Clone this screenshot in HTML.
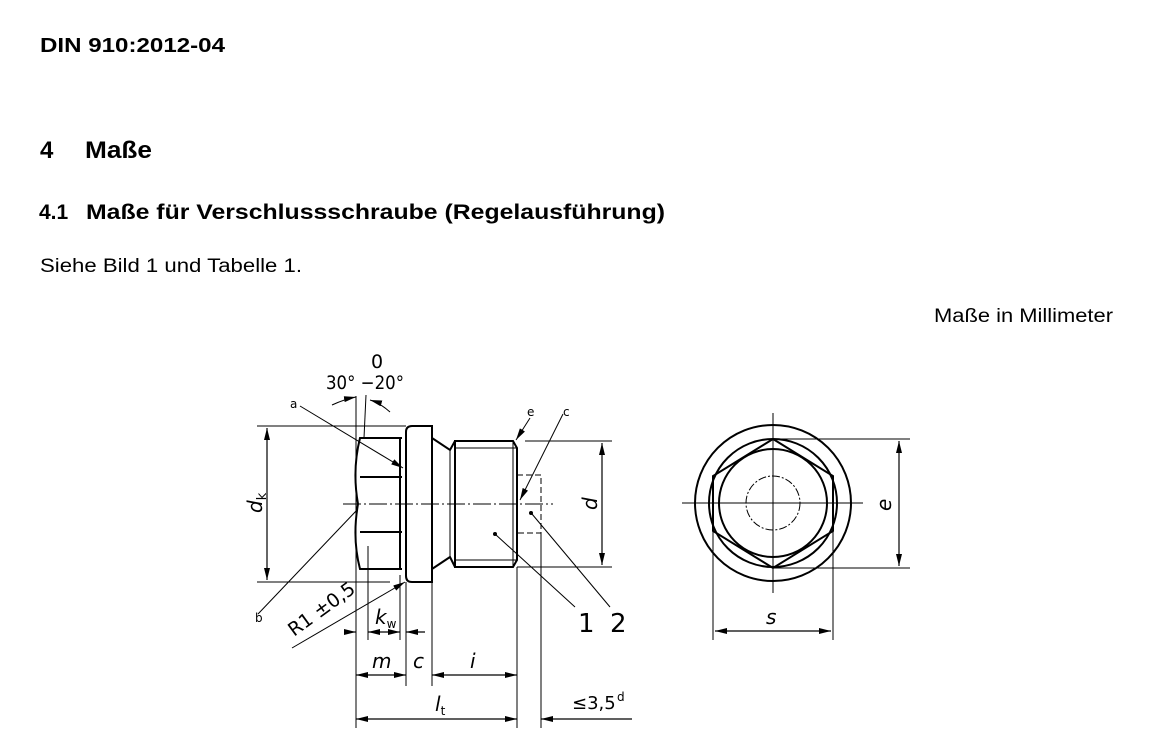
<!DOCTYPE html>
<html><head><meta charset="utf-8"><style>
html,body{margin:0;padding:0;background:#fff;width:1160px;height:752px;overflow:hidden}
svg{display:block}
text{font-family:"Liberation Sans","DejaVu Sans",sans-serif;fill:#000}
g.d text{font-family:"DejaVu Sans","Liberation Sans",sans-serif}
</style></head><body>
<svg width="1160" height="752" viewBox="0 0 1160 752" xmlns="http://www.w3.org/2000/svg">
<defs>
<marker id="a" viewBox="0 0 12 6" refX="12" refY="3" markerWidth="12" markerHeight="6" orient="auto-start-reverse" markerUnits="userSpaceOnUse"><path d="M0,0 L12,3 L0,6 Z" fill="#000"/></marker>
</defs>
<text x="40" y="52" font-size="20" font-weight="bold" textLength="185" lengthAdjust="spacingAndGlyphs">DIN 910:2012-04</text>
<text x="40" y="158" font-size="24" font-weight="bold">4</text>
<text x="85" y="158" font-size="24" font-weight="bold" textLength="67" lengthAdjust="spacingAndGlyphs">Maße</text>
<text x="39" y="219" font-size="21" font-weight="bold">4.1</text>
<text x="86" y="219" font-size="21" font-weight="bold" textLength="579" lengthAdjust="spacingAndGlyphs">Maße für Verschlussschraube (Regelausführung)</text>
<text x="40" y="272" font-size="19" textLength="262" lengthAdjust="spacingAndGlyphs">Siehe Bild 1 und Tabelle 1.</text>
<text x="934" y="322" font-size="19" textLength="179" lengthAdjust="spacingAndGlyphs">Maße in Millimeter</text>

<g stroke="#000" fill="none">
<path d="M402,438 H360 Q352,470 358,504 Q352,538 360,569 H402" stroke-width="2"/>
<line x1="360" y1="477" x2="402" y2="477" stroke-width="2"/>
<line x1="360" y1="532" x2="402" y2="532" stroke-width="2"/>
<line x1="400" y1="438" x2="400" y2="569" stroke-width="2"/>
<path d="M432,426 H412 Q406,426 406,432 V576 Q406,582 412,582 H432 Z" stroke-width="2"/>
<path d="M432,438 L450,450 L455,441 M432,569 L450,557 L455,567" stroke-width="2"/>
<line x1="450" y1="450" x2="450" y2="557" stroke-width="1"/>
<path d="M455,441 H513 L517,448 V560 L513,567 H455 Z" stroke-width="2"/>
<line x1="455" y1="448" x2="517" y2="448" stroke-width="1"/>
<line x1="455" y1="560" x2="517" y2="560" stroke-width="1"/>
<line x1="513" y1="441" x2="513" y2="567" stroke-width="1"/>
<path d="M517,475 H541 V533 H517" stroke-width="1" stroke-dasharray="6,3"/>
<line x1="343" y1="504" x2="553" y2="504" stroke-width="1" stroke-dasharray="18,3,2,3"/>
<line x1="257" y1="426" x2="406" y2="426" stroke-width="1"/>
<line x1="257" y1="582" x2="390" y2="582" stroke-width="1"/>
<line x1="267" y1="428" x2="267" y2="580" stroke-width="1.2" marker-start="url(#a)" marker-end="url(#a)"/>
<line x1="525" y1="441" x2="612" y2="441" stroke-width="1"/>
<line x1="517" y1="567" x2="612" y2="567" stroke-width="1"/>
<line x1="602" y1="443" x2="602" y2="565" stroke-width="1.2" marker-start="url(#a)" marker-end="url(#a)"/>
<line x1="356" y1="396" x2="356" y2="728" stroke-width="1"/>
<line x1="368" y1="546" x2="368" y2="640" stroke-width="1"/>
<line x1="400" y1="575" x2="400" y2="640" stroke-width="1"/>
<line x1="406" y1="582" x2="406" y2="686" stroke-width="1"/>
<line x1="432" y1="582" x2="432" y2="686" stroke-width="1"/>
<line x1="517" y1="567" x2="517" y2="728" stroke-width="1"/>
<line x1="541" y1="533" x2="541" y2="728" stroke-width="1"/>
<line x1="344" y1="632" x2="356" y2="632" stroke-width="1.2" marker-end="url(#a)"/>
<line x1="368" y1="632" x2="400" y2="632" stroke-width="1.2" marker-start="url(#a)" marker-end="url(#a)"/>
<line x1="425" y1="632" x2="406" y2="632" stroke-width="1.2" marker-end="url(#a)"/>
<line x1="356" y1="675" x2="406" y2="675" stroke-width="1.2" marker-start="url(#a)" marker-end="url(#a)"/>
<line x1="432" y1="675" x2="517" y2="675" stroke-width="1.2" marker-start="url(#a)" marker-end="url(#a)"/>
<line x1="356" y1="719" x2="517" y2="719" stroke-width="1.2" marker-start="url(#a)" marker-end="url(#a)"/>
<line x1="632" y1="719" x2="541" y2="719" stroke-width="1.2" marker-end="url(#a)"/>
<path d="M332,405 Q345,399 356,397" stroke-width="1" marker-end="url(#a)"/>
<path d="M390,412 Q380,403 370,400" stroke-width="1" marker-end="url(#a)"/>
<line x1="364" y1="438" x2="366" y2="395" stroke-width="1"/>
<line x1="300" y1="406" x2="403" y2="468" stroke-width="1" marker-end="url(#a)"/>
<line x1="258" y1="614" x2="357" y2="510" stroke-width="1"/>
<line x1="292" y1="648" x2="405" y2="582" stroke-width="1" marker-end="url(#a)"/>
<line x1="530" y1="418" x2="516" y2="440" stroke-width="1" marker-end="url(#a)"/>
<line x1="563" y1="414" x2="520" y2="500" stroke-width="1" marker-end="url(#a)"/>
<line x1="495" y1="534" x2="575" y2="607" stroke-width="1"/>
<line x1="532" y1="514" x2="610" y2="607" stroke-width="1"/>
</g>
<circle cx="495" cy="534" r="2" fill="#000"/>
<circle cx="531" cy="513" r="2" fill="#000"/>

<g class="d">
<text x="377" y="368" font-size="19" text-anchor="middle">0</text>
<text x="326" y="389" font-size="19" textLength="78" lengthAdjust="spacingAndGlyphs">30° −20°</text>
<text x="290" y="408" font-size="12">a</text>
<text x="527" y="416" font-size="12">e</text>
<text x="563" y="416" font-size="12">c</text>
<text x="255" y="622" font-size="12">b</text>
<text x="578" y="632" font-size="26">1</text>
<text x="610" y="632" font-size="26">2</text>
<text transform="translate(294,637) rotate(-36)" font-size="19">R1 ±0,5</text>
<text transform="translate(262,513) rotate(-90)" font-size="20" font-style="italic">d<tspan font-size="13" font-style="normal" dy="4">k</tspan></text>
<text transform="translate(597,510) rotate(-90)" font-size="20" font-style="italic">d</text>
<text x="375" y="624" font-size="20" font-style="italic">k<tspan font-size="12" font-style="normal" dy="4">w</tspan></text>
<text x="372" y="668" font-size="20" font-style="italic">m</text>
<text x="413" y="668" font-size="20" font-style="italic">c</text>
<text x="470" y="668" font-size="20" font-style="italic">i</text>
<text x="435" y="711" font-size="20" font-style="italic">l<tspan font-size="12" font-style="normal" dy="4">t</tspan></text>
<text x="572" y="709" font-size="18">≤3,5</text>
<text x="617" y="701" font-size="12">d</text>
<text transform="translate(891,511) rotate(-90)" font-size="20" font-style="italic">e</text>
<text x="766" y="624" font-size="20" font-style="italic">s</text>
</g>

<g stroke="#000" fill="none">
<circle cx="773" cy="503" r="78" stroke-width="2"/>
<circle cx="773" cy="503" r="64" stroke-width="2"/>
<circle cx="773" cy="503" r="54" stroke-width="2"/>
<polygon points="773,439 833,476 833,531 773,568 713,531 713,476" stroke-width="2"/>
<circle cx="773" cy="503" r="27" stroke-width="1" stroke-dasharray="8,2,2,2"/>
<line x1="773" y1="413" x2="773" y2="593" stroke-width="1"/>
<line x1="682" y1="503" x2="863" y2="503" stroke-width="1"/>
<line x1="773" y1="439" x2="910" y2="439" stroke-width="1"/>
<line x1="773" y1="568" x2="910" y2="568" stroke-width="1"/>
<line x1="899" y1="441" x2="899" y2="566" stroke-width="1.2" marker-start="url(#a)" marker-end="url(#a)"/>
<line x1="713" y1="531" x2="713" y2="640" stroke-width="1"/>
<line x1="833" y1="531" x2="833" y2="640" stroke-width="1"/>
<line x1="715" y1="631" x2="831" y2="631" stroke-width="1.2" marker-start="url(#a)" marker-end="url(#a)"/>
</g>
</svg>
</body></html>
